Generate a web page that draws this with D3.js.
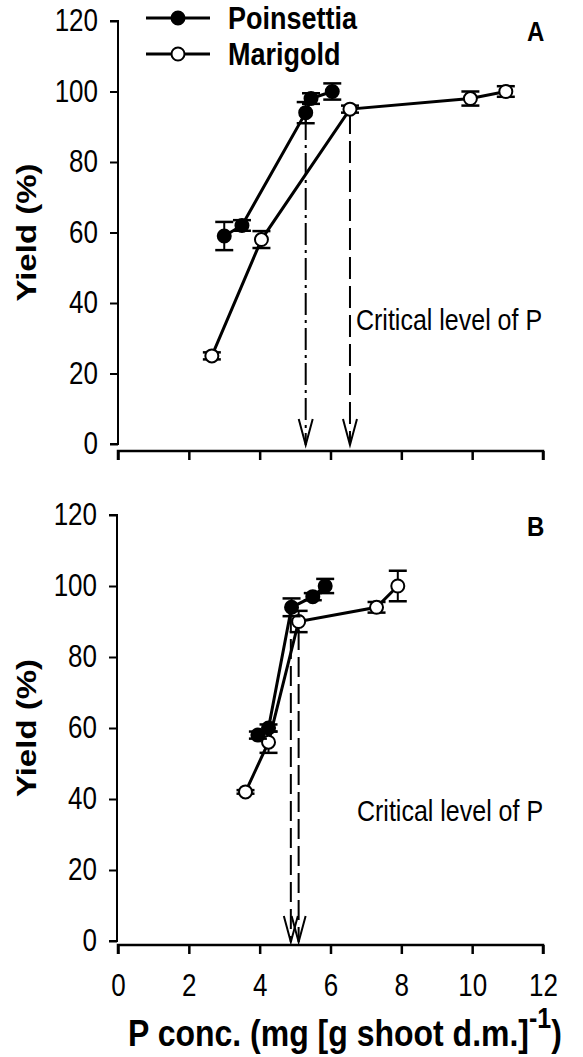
<!DOCTYPE html>
<html>
<head>
<meta charset="utf-8">
<script src="https://cdn.jsdelivr.net/npm/d3@7"></script>
<style>
  body { margin: 0; background: #fff; }
  text { font-family: "Liberation Sans", Arial, sans-serif; fill: #000; }
</style>
</head>
<body>
<div id="chart"></div>
<script>
var svgWidth = 583;
var svgHeight = 1057;

// panel A data
var poinA_x = [3.0, 3.5, 5.3, 5.45, 6.05];
var poinA_y = [59, 62, 94, 98, 100];
var poinA_err = [4, 1.5, 3, 1.5, 2.3];
var mariA_x = [2.65, 4.05, 6.55, 9.95, 10.95];
var mariA_y = [25, 58, 95, 98, 100];
var mariA_err = [1, 2.4, 1, 2, 1.5];
var critA = [5.3, 6.55];

// panel B data
var poinB_x = [3.95, 4.25, 4.9, 5.5, 5.85];
var poinB_y = [58, 60, 94, 97, 100];
var poinB_err = [1, 1, 2.5, 1, 2];
var mariB_x = [3.6, 4.25, 5.1, 7.3, 7.9];
var mariB_y = [42, 56, 90, 94, 100];
var mariB_err = [0.5, 3, 3, 1.5, 4.3];
var critB = [4.88, 5.1];

var xTicks = [0, 2, 4, 6, 8, 10, 12];
var yTicks = [0, 20, 40, 60, 80, 100, 120];

var svg = d3.select("#chart")
    .append("svg")
    .attr("width", svgWidth)
    .attr("height", svgHeight);

var xScale = d3.scaleLinear().domain([0, 12]).range([118, 543]);

// the original figure is a bit stretched vertically, text too
var STRETCH = 1.18;
function stretch(sel) {
    sel.each(function() {
        var t = d3.select(this);
        var x = +t.attr("x") || 0, y = +t.attr("y") || 0;
        t.attr("x", 0).attr("y", 0)
            .attr("transform", `translate(${x},${y}) scale(1,${STRETCH})`);
    });
}

function drawPanel(cfg) {
    var y = d3.scaleLinear().domain([0, 120]).range([cfg.y0, cfg.y120]);
    var g = svg.append("g");

    // y axis
    var yAxis = g.append("g")
        .attr("transform", `translate(${cfg.yAxisX},0)`)
        .call(d3.axisLeft(y).tickValues(yTicks).tickSize(8).tickPadding(12));
    yAxis.select(".domain").attr("d", `M-8,${y(120)}H0V${y(0)}H-8`).attr("stroke-width", 2);
    yAxis.selectAll(".tick line").attr("stroke-width", 2);
    yAxis.selectAll(".tick text").style("font-size", "26px").call(stretch);

    // x axis (slightly below zero)
    var xAxis = g.append("g")
        .attr("transform", `translate(0,${cfg.xAxisY})`)
        .call(d3.axisBottom(xScale).tickValues(xTicks).tickSize(9).tickPadding(20).tickFormat(cfg.xLabels ? d3.format("d") : ""));
    xAxis.select(".domain").attr("d", `M${xScale(0)},9V0H${xScale(12)}V9`).attr("stroke-width", 2.5);
    xAxis.selectAll(".tick line").attr("stroke-width", 2.5);
    xAxis.selectAll(".tick text").style("font-size", "26px").call(stretch);

    // critical lines
    cfg.crit.forEach(function(c, i) {
        var cx = xScale(c);
        var top = cfg.critTop[i];
        var tip = y(0) + 1;
        g.append("line")
            .attr("x1", cx).attr("x2", cx)
            .attr("y1", top).attr("y2", tip)
            .attr("stroke", "#000").attr("stroke-width", 2)
            .attr("stroke-dasharray", cfg.dash[i]);
        g.append("path")
            .attr("d", `M${cx - 7},${tip - 26}L${cx},${tip}L${cx + 7},${tip - 26}`)
            .attr("fill", "none").attr("stroke", "#000").attr("stroke-width", 2);
    });

    g.append("text")
        .attr("x", cfg.critLabel[0]).attr("y", cfg.critLabel[1])
        .style("font-size", "25px")
        .text("Critical level of P")
        .call(stretch);

    function series(xs, ys, errs, filled) {
        var pts = xs.map(function(d, i) { return { x: d, y: ys[i], e: errs[i] }; });
        g.append("path")
            .datum(pts)
            .attr("d", d3.line().x(d => xScale(d.x)).y(d => y(d.y)))
            .attr("fill", "none").attr("stroke", "#000").attr("stroke-width", 3);
        var eb = g.selectAll(null).data(pts).enter().append("g");
        eb.append("line")
            .attr("x1", d => xScale(d.x)).attr("x2", d => xScale(d.x))
            .attr("y1", d => y(d.y - d.e)).attr("y2", d => y(d.y + d.e))
            .attr("stroke", "#000").attr("stroke-width", 2);
        eb.append("line")
            .attr("x1", d => xScale(d.x) - 9).attr("x2", d => xScale(d.x) + 9)
            .attr("y1", d => y(d.y - d.e)).attr("y2", d => y(d.y - d.e))
            .attr("stroke", "#000").attr("stroke-width", 2.5);
        eb.append("line")
            .attr("x1", d => xScale(d.x) - 9).attr("x2", d => xScale(d.x) + 9)
            .attr("y1", d => y(d.y + d.e)).attr("y2", d => y(d.y + d.e))
            .attr("stroke", "#000").attr("stroke-width", 2.5);
        eb.append("circle")
            .attr("cx", d => xScale(d.x)).attr("cy", d => y(d.y))
            .attr("r", 6.5)
            .attr("fill", filled ? "#000" : "#fff")
            .attr("stroke", "#000").attr("stroke-width", 2);
    }
    series(cfg.mx, cfg.my, cfg.me, false);
    series(cfg.px, cfg.py, cfg.pe, true);

    g.append("text")
        .attr("x", 527).attr("y", cfg.letterY)
        .style("font-size", "24px").style("font-weight", "bold")
        .text(cfg.letter)
        .call(stretch);

    g.append("text")
        .attr("transform", `translate(36,${(y(0) + y(120)) / 2}) rotate(-90) scale(${STRETCH},1)`)
        .attr("text-anchor", "middle")
        .style("font-size", "28px").style("font-weight", "bold")
        .text("Yield (%)");
    return y;
}

drawPanel({
    y0: 444, y120: 21, yAxisX: 118, xAxisY: 451, xLabels: false,
    crit: critA, critTop: [118, 112], dash: ["22,5,3,5", "22,7"],
    critLabel: [356, 330],
    px: poinA_x, py: poinA_y, pe: poinA_err,
    mx: mariA_x, my: mariA_y, me: mariA_err,
    letter: "A", letterY: 41
});

drawPanel({
    y0: 941, y120: 515, yAxisX: 117, xAxisY: 945, xLabels: true,
    crit: critB, critTop: [612, 630], dash: ["20,7", "20,7"],
    critLabel: [357, 821],
    px: poinB_x, py: poinB_y, pe: poinB_err,
    mx: mariB_x, my: mariB_y, me: mariB_err,
    letter: "B", letterY: 536
});

// legend
var legend = svg.append("g");
[["Poinsettia", true, 18], ["Marigold", false, 54]].forEach(function(item) {
    legend.append("line")
        .attr("x1", 146).attr("x2", 210).attr("y1", item[2]).attr("y2", item[2])
        .attr("stroke", "#000").attr("stroke-width", 3);
    legend.append("circle")
        .attr("cx", 178).attr("cy", item[2]).attr("r", 6.5)
        .attr("fill", item[1] ? "#000" : "#fff")
        .attr("stroke", "#000").attr("stroke-width", 2);
    legend.append("text")
        .attr("x", 228).attr("y", item[2] + 11)
        .style("font-size", "27px").style("font-weight", "bold")
        .text(item[0])
        .call(stretch);
});

// x axis title
var xt = svg.append("text")
    .attr("x", 128).attr("y", 1046)
    .style("font-size", "32px").style("font-weight", "bold");
xt.append("tspan").text("P conc. (mg [g shoot d.m.]");
xt.append("tspan").attr("dy", -15).style("font-size", "25px").text("-1");
xt.append("tspan").attr("dy", 15).text(")");
xt.call(stretch);
</script>
</body>
</html>
